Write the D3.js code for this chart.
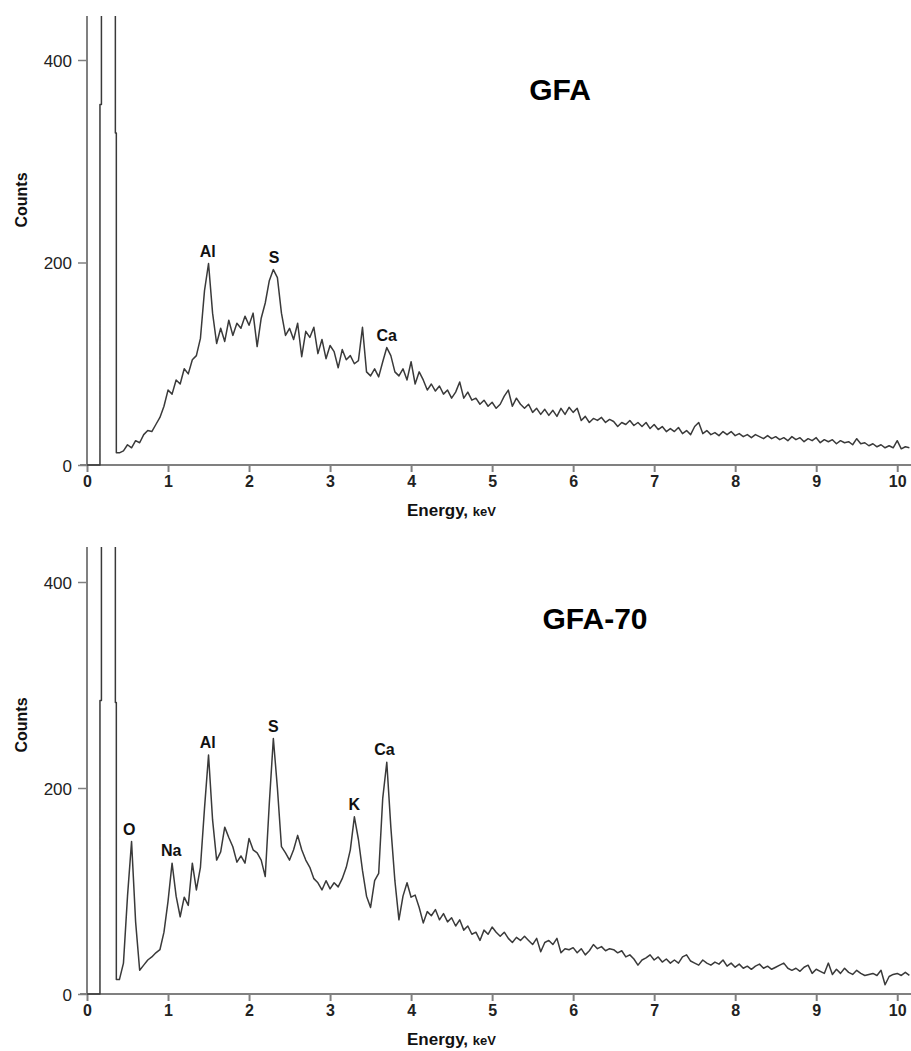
<!DOCTYPE html>
<html>
<head>
<meta charset="utf-8">
<script src="https://cdn.jsdelivr.net/npm/d3@7/dist/d3.min.js"></script>
<style>
body { margin: 0; background: #fff; }
text { font-family: "Liberation Sans", Arial, sans-serif; }
</style>
</head>
<body>
<div id="chart"></div>
<script>
// EDS spectra, GFA and GFA-70

var xTicks = [0, 1, 2, 3, 4, 5, 6, 7, 8, 9, 10];
var yTicks = [0, 200, 400];

// noise peak near zero (clipped at the top)
var lowEnergy = [0, 0.16, 0.16, 0.178, 0.178, 0.35, 0.35, 0.362, 0.362];
var lowGFA    = [0, 0, 356, 356, 1500, 1500, 328, 328, 12];
var lowGFA70  = [0, 0, 285, 285, 1500, 1500, 283, 283, 14];

// main spectrum, 0.40 keV to 10.15 keV every 0.05 keV
var specStart = 0.40, specStep = 0.05;

var gfa = [
  12, 14, 20, 17, 24, 22, 30, 34, 33, 40,
  47, 58, 74, 70, 84, 80, 95, 90, 104, 108,
  125, 172, 199, 150, 120, 135, 122, 143, 128, 140,
  135, 147, 138, 150, 117, 145, 160, 182, 193, 185,
  150, 128, 135, 124, 140, 107, 132, 126, 136, 110,
  124, 105, 118, 112, 96, 114, 104, 108, 100, 103,
  136, 92, 88, 95, 87, 102, 116, 108, 92, 88,
  95, 84, 102, 80, 92, 84, 74, 80, 73, 78,
  70, 74, 66, 72, 82, 66, 72, 64, 66, 60,
  64, 58, 62, 56, 60, 68, 74, 58, 66, 60,
  56, 60, 52, 56, 50, 55, 49, 54, 48, 56,
  50, 57, 52, 56, 44, 48, 42, 46, 44, 47,
  42, 45, 43, 38, 42, 40, 44, 39, 42, 38,
  42, 36, 40, 35, 38, 33, 36, 33, 37, 31,
  34, 30, 38, 42, 31, 34, 30, 32, 29, 33,
  30, 33, 29, 31, 28, 30, 27, 30, 28, 26,
  29, 26, 28, 25, 27, 24, 28, 25, 27, 23,
  26, 24, 27, 22, 25, 23, 25, 21, 24, 22,
  23, 20, 26, 21, 22, 19, 21, 18, 20, 17,
  19, 17, 24, 16, 18, 17
];

var gfa70 = [
  14, 30, 95, 148, 70, 23, 28, 33, 36, 40,
  43, 60, 90, 127, 95, 75, 94, 86, 127, 101,
  123, 180, 232, 169, 130, 138, 162, 152, 143, 128,
  134, 127, 151, 140, 137, 130, 114, 185, 248, 200,
  143, 137, 130, 140, 154, 140, 130, 123, 112, 108,
  101, 110, 102, 108, 104, 112, 123, 140, 172, 150,
  120, 95, 84, 110, 117, 190, 225, 162, 110, 72,
  95, 108, 94, 96, 84, 69, 80, 76, 82, 72,
  78, 70, 74, 66, 72, 62, 66, 58, 60, 52,
  62, 58, 65, 60, 56, 60, 54, 50, 55, 52,
  56, 52, 48, 54, 41, 50, 52, 48, 54, 40,
  44, 43, 45, 40, 44, 38, 42, 48, 44, 46,
  42, 44, 43, 40, 42, 36, 38, 34, 28, 33,
  35, 38, 33, 36, 31, 34, 30, 33, 30, 36,
  38, 32, 30, 28, 33, 30, 28, 31, 29, 33,
  27, 30, 26, 29, 25, 27, 24, 27, 29, 25,
  27, 24, 26, 28, 30, 25, 23, 25, 22, 26,
  28, 20, 24, 22, 20, 30, 19, 24, 20, 25,
  21, 19, 23, 20, 18, 19, 20, 18, 23, 9,
  17, 19, 20, 18, 21, 18
];

// peak labels
var peakNamesGFA   = ["Al", "S", "Ca"];
var peakEnergyGFA  = [1.49, 2.31, 3.70];
var peakCountGFA   = [199, 193, 116];

var peakNamesGFA70  = ["O", "Na", "Al", "S", "K", "Ca"];
var peakEnergyGFA70 = [0.52, 1.04, 1.49, 2.30, 3.30, 3.67];
var peakCountGFA70  = [148, 127, 232, 248, 172, 225];

var width = 911, height = 1051;

var svg = d3.select("#chart")
  .append("svg")
  .attr("width", width)
  .attr("height", height);

function buildSeries(lowVals, vals) {
  var pts = lowEnergy.map((e, i) => ({ e: e, c: lowVals[i] }));
  vals.forEach((c, i) => pts.push({ e: specStart + i * specStep, c: c }));
  return pts;
}

function drawPanel(opt) {
  var xScale = d3.scaleLinear().domain([0, 10.17]).range([87, 911]);
  var yScale = d3.scaleLinear().domain([0, 400]).range([opt.y0, opt.y400]);
  var g = svg.append("g");

  // clip for the spectrum
  g.append("clipPath").attr("id", opt.id + "-clip")
    .append("rect")
    .attr("x", 87).attr("y", opt.top)
    .attr("width", 911 - 87).attr("height", opt.y0 - opt.top + 2);

  // axes
  var xAxis = d3.axisBottom(xScale).tickValues(xTicks).tickSize(7).tickSizeOuter(0).tickPadding(4);
  var gx = g.append("g").attr("transform", `translate(0, ${opt.y0})`).call(xAxis);
  gx.select(".domain").attr("stroke", "#808080").attr("stroke-width", 2).attr("d", "M80,0H911");
  gx.selectAll(".tick line").attr("stroke", "#808080").attr("stroke-width", 2);
  gx.selectAll(".tick text").attr("fill", "#222").style("font-size", "16px").style("font-weight", "bold");

  var yAxis = d3.axisLeft(yScale).tickValues(yTicks).tickSize(9).tickSizeOuter(0).tickPadding(6);
  var gy = g.append("g").attr("transform", "translate(87, 0)").call(yAxis);
  gy.select(".domain").attr("stroke", "#808080").attr("stroke-width", 2)
    .attr("d", `M0,${opt.top}V${opt.y0}`);
  gy.selectAll(".tick line").attr("stroke", "#808080").attr("stroke-width", 1.5);
  gy.selectAll(".tick text").attr("fill", "#222").style("font-size", "17px").attr("dy", "0.36em");

  // spectrum
  var line = d3.line().x(d => xScale(d.e)).y(d => yScale(d.c));
  g.append("path")
    .datum(opt.series)
    .attr("clip-path", `url(#${opt.id}-clip)`)
    .attr("fill", "none")
    .attr("stroke", "#3a3a3a")
    .attr("stroke-width", 1.5)
    .attr("stroke-linejoin", "round")
    .attr("d", line);

  // peak labels
  g.selectAll(".peak")
    .data(opt.names)
    .enter()
    .append("text")
    .attr("x", (d, i) => xScale(opt.energies[i]))
    .attr("y", (d, i) => yScale(opt.counts[i]) - 7)
    .attr("text-anchor", "middle")
    .style("font-size", "16px")
    .style("font-weight", "bold")
    .attr("fill", "#111")
    .text(d => d);

  // title
  g.append("text")
    .attr("x", opt.titleX).attr("y", opt.titleY)
    .attr("text-anchor", "middle")
    .style("font-size", "30px").style("font-weight", "bold")
    .attr("fill", "#000")
    .text(opt.title);

  // axis titles
  g.append("text")
    .attr("transform", `translate(27, ${opt.countsY}) rotate(-90)`)
    .attr("text-anchor", "middle")
    .style("font-size", "16px").style("font-weight", "bold")
    .attr("fill", "#111")
    .text("Counts");

  var et = g.append("text")
    .attr("x", 407).attr("y", opt.y0 + 51)
    .attr("fill", "#111")
    .style("font-weight", "bold");
  et.append("tspan").style("font-size", "17px").text("Energy, ");
  et.append("tspan").style("font-size", "13px").text("keV");
}

drawPanel({
  id: "gfa", top: 16, y0: 465, y400: 60,
  series: buildSeries(lowGFA, gfa),
  names: peakNamesGFA, energies: peakEnergyGFA, counts: peakCountGFA,
  title: "GFA", titleX: 560, titleY: 100, countsY: 200
});

drawPanel({
  id: "gfa70", top: 547, y0: 994, y400: 582,
  series: buildSeries(lowGFA70, gfa70),
  names: peakNamesGFA70, energies: peakEnergyGFA70, counts: peakCountGFA70,
  title: "GFA-70", titleX: 595, titleY: 629, countsY: 725
});
</script>
</body>
</html>
